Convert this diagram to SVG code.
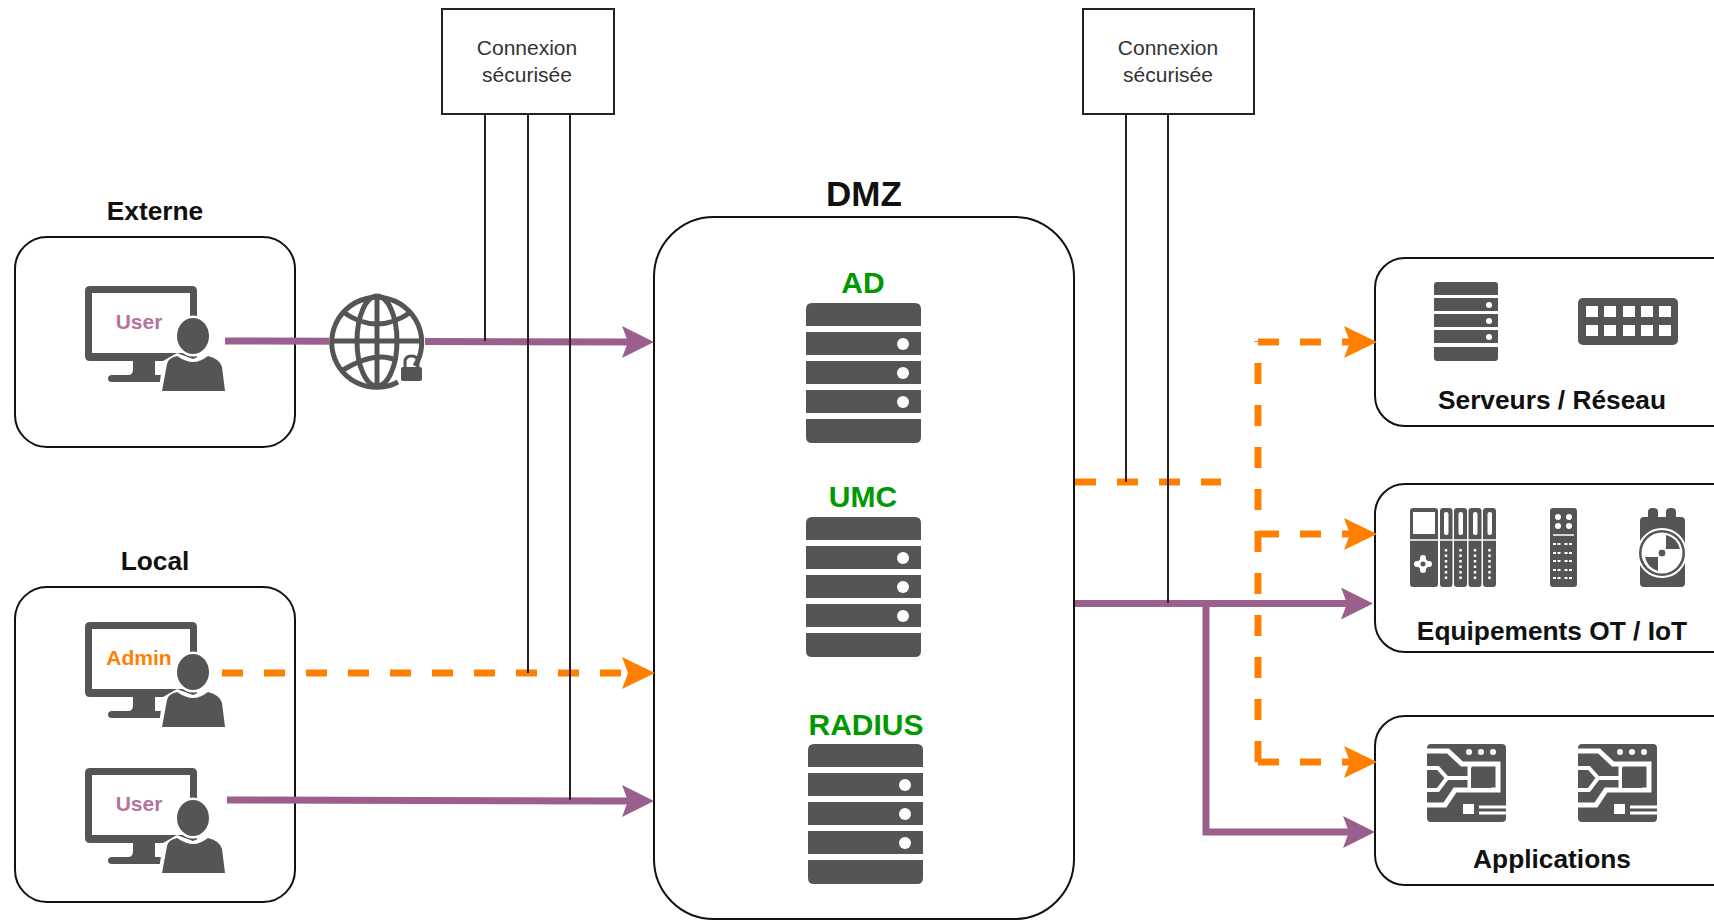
<svg xmlns="http://www.w3.org/2000/svg" xmlns:xlink="http://www.w3.org/1999/xlink" width="1714" height="920" viewBox="0 0 1714 920">
<style>
text{font-family:"Liberation Sans",Arial,sans-serif;text-anchor:middle}
.box{fill:#fff;stroke:#111;stroke-width:2}
.tag{fill:#fff;stroke:#222;stroke-width:2}
.h{font-weight:bold;font-size:26.3px;fill:#111}
.g{font-weight:bold;font-size:30px;fill:#009900}
.c{font-size:21px;fill:#333}
.u{font-weight:bold;font-size:21px}
.ic{fill:#555}
.w{fill:#fff}
.wl{fill:none;stroke:#fff}
.lnk{fill:none;stroke:#222;stroke-width:2}
.p{fill:none;stroke:#9A5F8C;stroke-width:7}
.o{fill:none;stroke:#FF8000;stroke-width:7;stroke-dasharray:21 21}
</style>
<defs>
<marker id="ap" markerUnits="userSpaceOnUse" markerWidth="34" markerHeight="34" refX="6" refY="16" orient="auto"><path d="M0 0L32 16L0 32L6 16Z" fill="#9A5F8C"/></marker>
<marker id="ao" markerUnits="userSpaceOnUse" markerWidth="34" markerHeight="34" refX="6" refY="16" orient="auto"><path d="M0 0L33 16L0 32L6 16Z" fill="#FF8000"/></marker>
<g id="pc">
<path class="ic" d="M90 286H192Q197 286 197 291V361H90Q85 361 85 356V291Q85 286 90 286ZM92 293V353H190V293Z" fill-rule="evenodd"/>
<path class="ic" d="M133 361H155V375H165V382H112Q108 382 108 378.500Q108 375 112 375H128Q133 375 133 369Z"/>
<ellipse cx="193" cy="336" rx="18.500" ry="20.500" class="w"/>
<path class="w" d="M158 394L163 361L177 353L193 359L208 353L224 364L229 394Z"/>
<ellipse cx="193" cy="336" rx="16" ry="18" class="ic"/>
<path class="ic" d="M162 391L167 364Q168 358 177 356Q186 362 193 362Q200 362 208 356Q220 359 222 367L225 391Z"/>
</g>
<g id="srv">
<path class="ic" d="M0 23V6Q0 0 6 0H109Q115 0 115 6V23Z"/>
<rect class="ic" y="29" width="115" height="23"/>
<rect class="ic" y="58" width="115" height="23"/>
<rect class="ic" y="87" width="115" height="23"/>
<path class="ic" d="M0 116H115V134Q115 140 109 140H6Q0 140 0 134Z"/>
<circle class="w" cx="97" cy="41" r="6"/><circle class="w" cx="97" cy="70" r="6"/><circle class="w" cx="97" cy="99" r="6"/>
</g>
<g id="app">
<rect class="ic" x="1427" y="744" width="79" height="78" rx="4"/>
<circle class="w" cx="1469" cy="752" r="3"/><circle class="w" cx="1481" cy="752" r="3"/><circle class="w" cx="1493" cy="752" r="3"/>
<path class="wl" stroke-width="5" d="M1427 751H1448L1462 764H1498V790H1455L1445 805H1427"/>
<path class="wl" stroke-width="4" d="M1427 768H1438L1447 778H1468M1447 778L1438 790H1427"/>
<path class="wl" stroke-width="4" d="M1469.500 764V790"/>
<rect class="ic" x="1471" y="768" width="20" height="20"/>
<rect class="w" x="1463" y="804" width="11" height="10"/>
<path class="wl" stroke-width="3" d="M1479 807H1506M1479 813H1506"/>
</g>
</defs>
<rect width="1714" height="920" fill="#fff"/>
<g id="externe">
<rect class="box" x="15" y="237" width="280" height="210" rx="32"/>
<text class="h" x="155" y="220">Externe</text>
<use href="#pc"/>
<text class="u" x="139" y="329" fill="#B5739D">User</text>
</g>
<g id="local">
<rect class="box" x="15" y="587" width="280" height="315" rx="32"/>
<text class="h" x="155" y="570">Local</text>
<use href="#pc" y="336"/>
<text class="u" x="139" y="665" fill="#FF8000">Admin</text>
<use href="#pc" y="482"/>
<text class="u" x="139" y="811" fill="#B5739D">User</text>
</g>
<g id="dmz">
<rect class="box" x="654" y="217" width="420" height="702" rx="60"/>
<text x="864" y="206" font-weight="bold" font-size="35" fill="#111">DMZ</text>
<g id="ad"><text class="g" x="863" y="293">AD</text><use href="#srv" x="806" y="303"/></g>
<g id="umc"><text class="g" x="863" y="507">UMC</text><use href="#srv" x="806" y="517"/></g>
<g id="radius"><text class="g" x="866" y="735">RADIUS</text><use href="#srv" x="808" y="744"/></g>
</g>
<g id="serveurs">
<rect class="box" x="1375" y="258" width="400" height="168" rx="30"/>
<g>
<path class="ic" d="M1434 295V285Q1434 282 1437 282H1495Q1498 282 1498 285V295Z"/>
<rect class="ic" x="1434" y="298" width="64" height="13"/>
<rect class="ic" x="1434" y="314" width="64" height="13"/>
<rect class="ic" x="1434" y="330" width="64" height="13"/>
<path class="ic" d="M1434 347H1498V358Q1498 361 1495 361H1437Q1434 361 1434 358Z"/>
<circle class="w" cx="1489" cy="305" r="3"/><circle class="w" cx="1489" cy="321" r="3"/><circle class="w" cx="1489" cy="337" r="3"/>
</g>
<g>
<rect class="ic" x="1578" y="298" width="100" height="47" rx="5"/>
<g class="w">
<rect x="1586" y="306" width="12" height="11"/><rect x="1604" y="306" width="12" height="11"/><rect x="1623" y="306" width="12" height="11"/><rect x="1641" y="306" width="12" height="11"/><rect x="1659" y="306" width="12" height="11"/>
<rect x="1586" y="325" width="12" height="11"/><rect x="1604" y="325" width="12" height="11"/><rect x="1623" y="325" width="12" height="11"/><rect x="1641" y="325" width="12" height="11"/><rect x="1659" y="325" width="12" height="11"/>
</g>
</g>
<text class="h" x="1552" y="409">Serveurs / Réseau</text>
</g>
<g id="ot">
<rect class="box" x="1375" y="484" width="400" height="168" rx="30"/>
<g>
<rect class="ic" x="1410" y="508" width="28" height="79" rx="3"/>
<rect class="w" x="1413" y="512" width="22" height="22"/>
<circle class="w" cx="1423" cy="564" r="5.500"/>
<circle class="w" cx="1423" cy="558" r="3"/><circle class="w" cx="1423" cy="570" r="3"/><circle class="w" cx="1417" cy="564" r="3"/><circle class="w" cx="1429" cy="564" r="3"/>
<circle class="ic" cx="1423" cy="564" r="2.500"/>
<rect class="ic" x="1440" y="508" width="12.500" height="79" rx="3"/>
<rect class="ic" x="1454" y="508" width="13" height="79" rx="3"/>
<rect class="ic" x="1468.500" y="508" width="13" height="79" rx="3"/>
<rect class="ic" x="1483" y="508" width="13" height="79" rx="3"/>
<path class="wl" stroke-width="1.500" d="M1410 540H1496"/>
<g class="w">
<rect x="1444" y="512" width="4.500" height="23" rx="2"/><rect x="1458.500" y="512" width="4.500" height="23" rx="2"/><rect x="1473" y="512" width="4.500" height="23" rx="2"/><rect x="1487.500" y="512" width="4.500" height="23" rx="2"/>
</g>
<g class="wl" stroke-width="2.500" stroke-dasharray="2.500 3">
<path d="M1446 549V580M1460.500 549V580M1475 549V580M1489.500 549V580"/>
</g>
</g>
<g>
<rect class="ic" x="1550" y="508" width="27" height="79" rx="3"/>
<circle class="w" cx="1558" cy="517" r="3"/><circle class="w" cx="1569" cy="517" r="3"/><circle class="w" cx="1558" cy="526" r="3"/><circle class="w" cx="1569" cy="526" r="3"/>
<path class="wl" stroke-width="1.500" d="M1553 535H1574"/>
<path class="wl" stroke-width="2" stroke-dasharray="3 1.500 3 4" d="M1553 544H1575M1553 553H1575M1553 561H1575M1553 570H1575M1553 578H1575"/>
</g>
<g>
<rect class="ic" x="1648" y="508" width="10" height="14" rx="4"/><rect class="ic" x="1666" y="508" width="10" height="14" rx="4"/>
<rect class="ic" x="1640" y="517" width="45" height="70" rx="4"/>
<circle cx="1662" cy="553" r="24" class="ic" stroke="#fff" stroke-width="2"/>
<circle cx="1662" cy="553" r="20.500" class="w"/>
<path class="ic" d="M1666 549V535A19 19 0 0 1 1680 549Z"/>
<path class="ic" d="M1658 557H1645A19 19 0 0 0 1658 571Z"/>
<circle cx="1662" cy="553" r="4" class="ic" stroke="#fff"/>
</g>
<text class="h" x="1552" y="640">Equipements OT / IoT</text>
</g>
<g id="applications">
<rect class="box" x="1375" y="716" width="400" height="169" rx="30"/>
<use href="#app"/>
<use href="#app" x="151"/>
<text class="h" x="1552" y="868">Applications</text>
</g>
<g id="connectors">
<path class="p" d="M225 341L628 342" marker-end="url(#ap)"/>
<path class="o" d="M222 673H628" marker-end="url(#ao)"/>
<path class="p" d="M227 800L628 801" marker-end="url(#ap)"/>
<path class="o" d="M1075 482H1221"/>
<path class="o" d="M1258 762V341"/>
<path class="o" d="M1258 342H1350" marker-end="url(#ao)"/>
<path class="o" d="M1258 534H1350" marker-end="url(#ao)"/>
<path class="o" d="M1258 762H1350" marker-end="url(#ao)"/>
<path class="p" d="M1075 603.500H1347" marker-end="url(#ap)"/>
<path class="p" d="M1206 603V832H1349" marker-end="url(#ap)"/>
<path class="lnk" d="M485 114V341M528 114V673M570 114V800M1126 114V482M1168 114V603"/>
</g>
<g id="globe">
<rect class="w" x="329" y="293" width="96" height="97"/>
<g fill="none" stroke="#555" stroke-width="5">
<path d="M415 366A45 45 0 1 0 398 382"/>
<ellipse cx="377" cy="341" rx="20" ry="45"/>
<path d="M377 296V386M332 341H422"/>
<path d="M343 312Q377 336 411 312M343 370Q377 350 397 361"/>
</g>
<rect class="ic" x="401" y="367" width="21" height="14" rx="2"/>
<path d="M405 367V362Q405 356 411.500 356Q418 356 418 362V367" fill="none" stroke="#555" stroke-width="3"/>
</g>
<g id="tag1">
<rect class="tag" x="442" y="9" width="172" height="105"/>
<text class="c" x="527" y="55">Connexion</text>
<text class="c" x="527" y="81.500">sécurisée</text>
</g>
<g id="tag2">
<rect class="tag" x="1083" y="9" width="171" height="105"/>
<text class="c" x="1168" y="55">Connexion</text>
<text class="c" x="1168" y="81.500">sécurisée</text>
</g>
</svg>
